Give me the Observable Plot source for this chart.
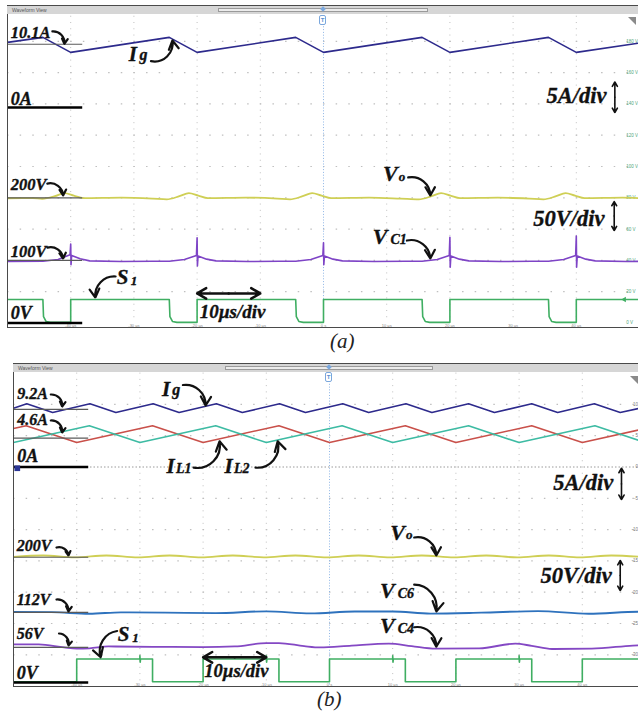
<!DOCTYPE html>
<html>
<head>
<meta charset="utf-8">
<script src="https://cdn.jsdelivr.net/npm/d3@7"></script>
<script src="https://cdn.jsdelivr.net/npm/@observablehq/plot@0.6"></script>
<style>
  html, body { margin: 0; padding: 0; background: #fff; }
  #page { position: relative; width: 638px; height: 712px; overflow: hidden; background: #fff; }
  .panel { position: absolute; overflow: hidden; }
  .bar { position: absolute; height: 9px; background: #d6d6d6; border-top: 1px solid #4a4a4a;
         font: 5px "Liberation Sans", Arial, sans-serif; color: #555; line-height: 8px;
         box-sizing: border-box; padding-left: 5px; }
  .scroll { position: absolute; top: 2px; height: 2px; border: 1px solid #9a9a9a; background: #ececec; }
  .frame { position: absolute; border-left: 1px solid #4a4a4a; border-bottom: 1px solid #4a4a4a;
           box-sizing: border-box; pointer-events: none; }
  .corner { position: absolute; width: 0; height: 0; border-top: 8px solid #8a8a8a; border-left: 8px solid transparent; }
  .trig { position: absolute; width: 5px; height: 8px; border: 1px solid #7aa7dd; border-radius: 2px;
          font: bold 6px "Liberation Sans", Arial, sans-serif; color: #5b8fd0; text-align: center; line-height: 8px; background: #fff; }
  .trigtop { position: absolute; width: 4px; height: 4px; background: #7aa7dd; transform: rotate(45deg); }
  .caption { position: absolute; font: italic 21px "Liberation Serif", serif; color: #222; line-height: 1; }
</style>
</head>
<body>
<div id="page">
  <div id="pa" class="panel" style="left:7px;top:5px;width:632px;height:322px"></div>
  <div class="frame" style="left:7px;top:5px;width:632px;height:323px"></div>
  <div class="bar" style="left:7px;top:5px;width:631px">Waveform View<div class="scroll" style="left:211px;width:208px"></div></div>
  <div class="trigtop" style="left:321px;top:7px"></div>
  <div class="trig" style="left:319px;top:15px">T</div>
  <div class="corner" style="left:628px;top:17px"></div>
  <div class="caption" style="left:330px;top:331px">(a)</div>

  <div id="pb" class="panel" style="left:13px;top:363px;width:632px;height:324px"></div>
  <div class="frame" style="left:13px;top:363px;width:626px;height:324px"></div>
  <div class="bar" style="left:13px;top:363px;width:625px">Waveform View<div class="scroll" style="left:212px;width:206px"></div></div>
  <div class="trigtop" style="left:327px;top:365px"></div>
  <div class="trig" style="left:325px;top:372px">T</div>
  <div class="corner" style="left:630px;top:376px"></div>
  <div class="caption" style="left:317px;top:689px">(b)</div>
</div>
<script>
// ---- shared axis ticks ----
const TIME_TICKS = [-40, -30, -20, -10, 0, 10, 20, 30, 40];
const TIME_LABELS = ["-40 µs", "-30 µs", "-20 µs", "-10 µs", "0 s", "10 µs", "20 µs", "30 µs", "40 µs"];
const A_AXIS_TICKS = [0, 20, 40, 60, 80, 100, 120, 140, 160, 180];
const A_AXIS_LABELS = ["0 V", "20 V", "40 V", "60 V", "80 V", "100 V", "120 V", "140 V", "160 V", "180 V"];
const B_AXIS_TICKS = [10, 5, 0, -5, -10, -15, -20, -25, -30];
const B_AXIS_LABELS = ["10", "5", "0", "-5", "-10", "-15", "-20", "-25", "-30"];

// ---- (a) waveforms: [time µs, value] ----
const igA = [[-50,10.4],[-44.4,11.2],[-40,8.8],[-24.4,11.2],[-20,8.8],[-4.4,11.2],[0,8.8],
  [15.6,11.2],[20,8.8],[35.6,11.2],[40,8.8],[50,10.3]];                               // A
const voA = [[-50,199.3],[-46,199.5],[-44.5,198.5],[-42.5,202.5],[-41,207.5],[-39.5,203.5],[-38,199.5],[-32,200.3],[-27,198.7],
  [-24.8,197.5],[-22.8,202.5],[-21.3,207.5],[-19.8,203.5],[-18.3,199.5],[-12.3,200.3],[-7.3,198.7],
  [-5.3,197.5],[-3.3,202.5],[-1.8,207.5],[-0.3,203.5],[1.2,199.5],[7.2,200.3],[12.2,198.7],
  [15.1,197.5],[17.1,202.5],[18.6,207.5],[20.1,203.5],[21.6,199.5],[27.6,200.3],[32.6,198.7],
  [34.8,197.5],[36.8,202.5],[38.3,207.5],[39.8,203.5],[41.3,199.5],[47.3,200.3],[50,199.5]];   // V
const vc1A = [[-50,98.5],[-44.4,98.6],[-42,101.5],[-40.1,109],[-40,126],[-39.95,93],[-39.85,108],[-38.5,102.5],[-37,99.2],[-32,98.2],[-27,98.7],
  [-24.4,98.6],[-22,101.5],[-20.1,108],[-20,136],[-19.95,91],[-19.85,107],[-18.5,102],[-17,99.2],[-12,98.2],[-7,98.7],
  [-4.4,98.6],[-2,101.5],[-0.1,108],[0,128],[0.05,93],[0.15,107],[1.5,102],[3,99.2],[8,98.2],[13,98.7],
  [15.6,98.6],[18,101.5],[19.9,108],[20,137],[20.05,89],[20.15,107],[21.5,102],[23,99.2],[28,98.2],[33,98.7],
  [35.6,98.6],[38,101.5],[39.9,108],[40,139],[40.05,89],[40.15,107],[41.5,102],[43,99.2],[48,98.2],[50,98.4]];  // V
const s1A = [[-50,15],[-44.4,15],[-44.3,4],[-43.9,1],[-43.2,0.4],[-40,0.4],[-40,15],
  [-24.4,15],[-24.3,4],[-23.9,1],[-23.2,0.4],[-20,0.4],[-20,15],
  [-4.4,15],[-4.3,4],[-3.9,1],[-3.2,0.4],[0,0.4],[0,15],
  [15.6,15],[15.7,4],[16.1,1],[16.8,0.4],[20,0.4],[20,15],
  [35.6,15],[35.7,4],[36.1,1],[36.8,0.4],[40,0.4],[40,15],[50,15]];                     // V
const refAmpsA = [10.1];
const refVoltsA = [200, 100];

// ---- (b) waveforms ----
const igB = [[-50,9.4],[-47.9,10.1],[-43.8,8.7],[-37.9,10.1],[-33.8,8.7],[-27.9,10.1],[-23.8,8.7],[-17.9,10.1],[-13.8,8.7],
  [-7.9,10.1],[-3.8,8.7],[2.1,10.1],[6.2,8.7],[12.1,10.1],[16.2,8.7],[22,10.1],[26.1,8.7],[32,10.1],[36.1,8.7],
  [41.9,10.1],[46,8.7],[50,9.6]];                                                       // A
const il1B = [[-50,6.15],[-48,6.6],[-40,3.9],[-28,6.6],[-20,3.9],[-8,6.6],[0,3.9],[12,6.6],[20,3.9],[32,6.6],[40,3.9],[50,6.15]];
const il2B = [[-50,3.9],[-38,6.6],[-30,3.9],[-18,6.6],[-10,3.9],[2,6.6],[10,3.9],[22,6.6],[30,3.9],[42,6.6],[50,3.9]];
const voB = [[-50,200.5],[-45.3,202.8],[-40.3,199.8],[-35.3,202.8],[-30.3,199.8],[-25.3,202.8],[-20.3,199.8],[-15.3,202.8],
  [-10.4,199.8],[-5.4,202.8],[-0.4,199.8],[4.6,202.8],[9.6,199.8],[14.6,202.8],[19.7,199.8],[24.8,202.8],[29.7,199.8],
  [34.7,202.8],[39.6,199.8],[44.6,202.8],[50,200]];                                     // V
const vc6B = [[-50,112.5],[-44,112.3],[-38,109.8],[-33,112],[-26,111.5],[-18,110.8],[-10,113.6],[-3,110.3],[4,113.4],
  [10,113.4],[16,110],[24,111.5],[33,114],[41,109.8],[49,113],[50,113]];                 // V
const vc4B = [[-50,61],[-46,61],[-42,56],[-40,54],[-38,54.5],[-35,57.5],[-28,57],[-20,56.5],[-15,57.5],[-10,63],[-8,63],
  [-4,58],[-1.5,56],[3.5,59],[9.4,62],[13,58],[16.8,54],[23.7,54.5],[29.4,62],[32,58.5],[35.2,53.5],[41.5,54],[48,59],[50,60]];
const s1B = [[-50,0.5],[-40,0.5],[-40,15],[-30,15],[-30,17],[-29.95,13],[-29.9,15],[-28,15],[-28,0.5],[-20,0.5],[-20,15],
  [-10,15],[-10,17],[-9.95,13],[-9.9,15],[-8,15],[-8,0.5],[0,0.5],[0,15],[10,15],[10,17],[10.05,13],[10.1,15],
  [12,15],[12,0.5],[20,0.5],[20,15],[30,15],[30,17],[30.05,13],[30.1,15],[32,15],[32,0.5],[40,0.5],[40,15],[50,15]];
const refAmpsB = [9.2, 4.6];
const refVoltsB = [200, 112, 56];

// ---- colours ----
const C = {ig: "#2d2a8c", vo: "#cfcf55", vc1: "#7e44c6", s1: "#3fae62", il1: "#c9504a", il2: "#3dbba3",
           vc6: "#2e72bd", vc4: "#8448c4", grid: "#bfbfbf", ref: "#5a5a5a"};
const SERIF = "'Liberation Serif', 'DejaVu Serif', serif";
const SANS = "'Liberation Sans', Arial, sans-serif";

// channel offsets/gains onto each panel's display scale
const ampsA = i => 137.7 + i * 4;      // 5 A/div on a 20 V/div display
const voltsA = v => v * 0.4;           // 50 V/div
const gateA = v => v;                  // 20 V/div
const ampsB = i => i;                  // 5 A/div display
const voltsB = v => -34.42 + v * 0.1;  // 50 V/div
const gateB = v => -34.42 + v * 0.25;  // 20 V/div

const lbl = (x, y, text, size, extra = {}) =>
  Plot.text([{x, y, text}], {x: "x", y: "y", text: "text", fontSize: size, fontFamily: SERIF,
    fontWeight: "bold", fontStyle: "italic", textAnchor: "start", lineAnchor: "bottom", fill: "#111",
    stroke: "#111", strokeWidth: 0.35, ...extra});
const arr = (x1, y1, x2, y2, bend, extra = {}) =>
  Plot.arrow([{x1, y1, x2, y2}], {x1: "x1", y1: "y1", x2: "x2", y2: "y2", bend, stroke: "#111",
    strokeWidth: 2.2, headLength: 7.5, headAngle: 60, ...extra});
const dbl = (x1, y1, x2, y2, w) => {
  const mx = (x1 + x2) / 2, my = (y1 + y2) / 2;
  return [arr(mx, my, x1, y1, 0, {strokeWidth: w, headLength: 6.5}), arr(mx, my, x2, y2, 0, {strokeWidth: w, headLength: 6.5})];
};
const trace = (data, f, stroke, curve = "linear", w = 1.6) =>
  Plot.line(data, {x: d => d[0], y: d => f(d[1]), stroke, strokeWidth: w, curve});
const refLine = (vals, f, stroke, w) =>
  Plot.ruleY(vals, {y: d => f(d), x1: () => -50, x2: () => -38.1, stroke, strokeWidth: w});

// ---------------- panel (a) ----------------
const plotA = Plot.plot({
  width: 632, height: 322, marginLeft: 0, marginRight: 0, marginTop: 4.5, marginBottom: 4.5,
  x: {domain: [-50, 50], axis: null},
  y: {domain: [0, 200], axis: null},
  marks: [
    Plot.ruleX(TIME_TICKS.filter(t => t !== 0), {stroke: C.grid, strokeDasharray: "1,5.26"}),
    Plot.ruleY(A_AXIS_TICKS.filter(v => v > 0), {stroke: C.grid, strokeWidth: 1.2, strokeDasharray: "1.5,11.14"}),
    Plot.ruleX([0], {stroke: "#8fb6e6", strokeDasharray: "1,1.8"}),
    Plot.text(A_AXIS_TICKS, {x: () => 47.9, y: d => d, text: (d, i) => A_AXIS_LABELS[i], fontSize: 4.5,
      fontFamily: SANS, fill: "#52a67c", textAnchor: "start"}),
    Plot.text(TIME_TICKS, {x: d => d, y: () => -1.6, text: (d, i) => TIME_LABELS[i], fontSize: 4, fontFamily: SANS, fill: "#888"}),
    trace(s1A, gateA, C.s1),
    trace(vc1A, voltsA, C.vc1),
    trace(voA, voltsA, C.vo, "monotone-x", 1.8),
    trace(igA, ampsA, C.ig),
    refLine(refAmpsA, ampsA, C.ref, 1.2),
    refLine(refVoltsA, voltsA, C.ref, 1.2),
    refLine([0], ampsA, "#000", 2.6),
    refLine([0], voltsA, "#000", 2.6),
    Plot.dot([0], {x: () => 47.6, y: () => 15, symbol: "triangle", r: 2, fill: C.s1, rotate: -90}),
    // channel value markers
    lbl(-49.5, 182.4, `${refAmpsA[0]}A`, 16.5),
    lbl(-49.5, 139.3, "0A", 18),
    lbl(-49.5, 85.3, `${refVoltsA[0]}V`, 16.5),
    lbl(-49.5, 41.9, `${refVoltsA[1]}V`, 16.5),
    lbl(-49.5, 2.4, "0V", 18),
    arr(-42.9, 186.3, -41.0, 178.4, 50),
    arr(-43.7, 89.1, -41.2, 81.5, 50),
    arr(-43.7, 48.2, -41.2, 41.2, 50),
    // trace names
    lbl(-30.8, 167.7, "I", 21), lbl(-29.1, 168.3, "g", 16),
    arr(-27.3, 167.3, -23.9, 180.5, -55),
    lbl(9.4, 90.6, "V", 22), lbl(11.9, 90.9, "o", 13),
    arr(13.4, 93.0, 16.9, 81.5, 50),
    lbl(7.8, 50.2, "V", 22), lbl(10.6, 50.2, "C1", 14),
    arr(13.2, 52.7, 16.9, 41.2, 50),
    lbl(-32.7, 25.2, "S", 21), lbl(-30.5, 24.0, "1", 13),
    arr(-32.9, 29.7, -36.1, 16.3, -50),
    // scale notes
    lbl(35.3, 140.3, "5A/div", 22.5),
    ...dbl(46.1, 154, 46.1, 134.5, 1.6),
    lbl(33.2, 62.3, "50V/div", 22.5),
    ...dbl(46.0, 77.6, 46.0, 59.1, 1.6),
    lbl(-19.6, 3.5, "10µs/div", 19),
    ...dbl(-20, 18.9, -10, 18.9, 2.5)
  ]
});
document.getElementById("pa").append(plotA);

// ---------------- panel (b) ----------------
const plotB = Plot.plot({
  width: 632, height: 324, marginLeft: 0, marginRight: 0, marginTop: 9.6, marginBottom: 1.4,
  x: {domain: [-50, 50], axis: null},
  y: {domain: [-35, 15], axis: null},
  marks: [
    Plot.ruleX(TIME_TICKS.filter(t => t !== 0), {stroke: C.grid, strokeDasharray: "1,5.26"}),
    Plot.ruleY(B_AXIS_TICKS.filter(v => v !== 0), {stroke: C.grid, strokeWidth: 1.2, strokeDasharray: "1.5,11.14"}),
    Plot.ruleY([0], {stroke: "#9a9a9a", strokeDasharray: "1.5,2"}),
    Plot.ruleX([0], {stroke: "#8fb6e6", strokeDasharray: "1,1.8"}),
    Plot.text(B_AXIS_TICKS, {x: () => 48.8, y: d => d, text: (d, i) => B_AXIS_LABELS[i], fontSize: 4.5,
      fontFamily: SANS, fill: "#777", textAnchor: "end"}),
    Plot.text(TIME_TICKS, {x: d => d, y: () => -34.75, text: (d, i) => TIME_LABELS[i], fontSize: 4, fontFamily: SANS, fill: "#888"}),
    trace(s1B, gateB, C.s1),
    trace(vc4B, voltsB, C.vc4, "monotone-x", 1.8),
    trace(vc6B, voltsB, C.vc6, "monotone-x", 1.9),
    trace(voB, voltsB, C.vo, "monotone-x", 1.8),
    trace(il1B, ampsB, C.il1),
    trace(il2B, ampsB, C.il2),
    trace(igB, ampsB, C.ig),
    refLine(refAmpsB, ampsB, C.ref, 1.2),
    refLine(refVoltsB, voltsB, C.ref, 1.2),
    refLine([0], ampsB, "#000", 2.6),
    refLine([0], voltsB, "#000", 2.6),
    Plot.dot([0], {x: () => -49.4, y: () => -0.2, symbol: "square", r: 3.2, fill: "#2b3594"}),
    lbl(-49.4, 10.94, `${refAmpsB[0]}A`, 16),
    lbl(-49.4, 6.63, `${refAmpsB[1]}A`, 16),
    lbl(-49.4, 0.72, "0A", 18),
    lbl(-49.5, -13.34, `${refVoltsB[0]}V`, 16),
    lbl(-49.5, -22.12, `${refVoltsB[1]}V`, 16),
    lbl(-49.5, -27.4, `${refVoltsB[2]}V`, 16),
    lbl(-49.5, -33.79, "0V", 18),
    arr(-44.1, 11.58, -42.3, 9.66, 50),
    arr(-44.1, 7.43, -42.3, 5.51, 50),
    arr(-43.2, -12.86, -41.3, -14.14, 50),
    arr(-43.2, -21.17, -41.3, -23.08, 50),
    arr(-42.8, -26.6, -41.3, -28.5, 50),
    // trace names
    lbl(-26.5, 11.42, "I", 21), lbl(-24.9, 11.58, "g", 16),
    arr(-23.2, 13.1, -19.6, 9.82, 50),
    lbl(-25.8, -0.88, "I", 21), lbl(-24.3, -0.88, "L1", 14),
    arr(-21.5, -0.1, -17.4, 4.1, -55),
    lbl(-16.6, -0.88, "I", 21), lbl(-15.1, -0.88, "L2", 14),
    arr(-11.7, -0.1, -8.2, 4.1, -55),
    lbl(9.6, -11.74, "V", 22), lbl(12.1, -11.5, "o", 13),
    arr(13.4, -11.26, 16.9, -14.14, 50),
    lbl(8.0, -20.85, "V", 22), lbl(10.8, -20.85, "C6", 14),
    arr(13.4, -18.8, 16.9, -23.08, 50),
    lbl(8.0, -26.44, "V", 22), lbl(10.8, -26.44, "C4", 14),
    arr(13.4, -25.6, 16.9, -28.7, 50),
    lbl(-33.5, -27.72, "S", 21), lbl(-31.2, -28.0, "1", 13),
    arr(-33.6, -26.2, -36.2, -30.4, -50),
    // scale notes
    lbl(35.4, -3.75, "5A/div", 22.5),
    ...dbl(46.2, -0.2, 46.2, -5.2, 1.6),
    lbl(33.4, -18.6, "50V/div", 22.5),
    ...dbl(46.0, -14.94, 46.0, -19.73, 1.6),
    lbl(-19.8, -33.55, "10µs/div", 18.5),
    ...dbl(-20, -30.4, -10, -30.4, 2.5)
  ]
});
document.getElementById("pb").append(plotB);
</script>
</body>
</html>
